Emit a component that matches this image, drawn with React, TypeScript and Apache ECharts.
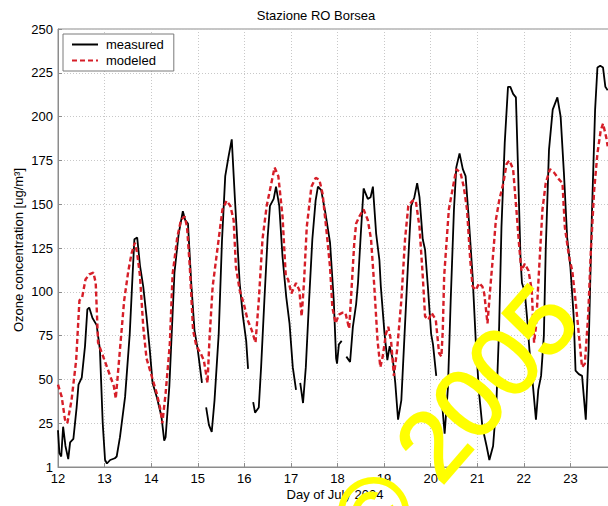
import React, { useEffect, useRef } from "react";
import * as echarts from "echarts";

const titleText = "Stazione RO Borsea";
const xAxisName = "Day of July 2004";
const yAxisName = "Ozone concentration [ug/m³]";
const watermarkText = "© 2005";
const seriesNames = ["measured", "modeled"];
const yTicks = [0, 25, 50, 75, 100, 125, 150, 175, 200, 225, 250];

// [day of July, ozone ug/m3]; null = missing data
const measured: [number, number | null][] = [
  [12.0, 21], [12.03, 8], [12.07, 6], [12.11, 23], [12.16, 12], [12.22, 4.5], [12.26, 14], [12.33, 16],
  [12.4, 34], [12.44, 47], [12.51, 51], [12.58, 69], [12.63, 90], [12.67, 91], [12.74, 85], [12.83, 81],
  [12.9, 67], [12.96, 25], [13.01, 4], [13.05, 2], [13.12, 4], [13.22, 5], [13.26, 6], [13.33, 17],
  [13.44, 40], [13.54, 76], [13.6, 109], [13.64, 130], [13.7, 131], [13.76, 115], [13.83, 103], [13.9, 86],
  [13.97, 67], [14.03, 48], [14.12, 40], [14.22, 29], [14.28, 15], [14.31, 17], [14.39, 46], [14.5, 111],
  [14.59, 133], [14.68, 146], [14.73, 141], [14.79, 139], [14.86, 105], [14.93, 78], [15.0, 67], [15.09, 48],
  [15.13, null], [15.18, 34], [15.24, 24], [15.3, 20], [15.36, 38], [15.45, 76], [15.52, 129], [15.59, 166],
  [15.66, 177], [15.73, 187], [15.8, 152], [15.9, 105], [15.97, 86], [16.04, 72], [16.08, 56], [16.13, null],
  [16.19, 37], [16.23, 31], [16.31, 34], [16.36, 57], [16.43, 95], [16.5, 131], [16.55, 149], [16.63, 153],
  [16.68, 160], [16.75, 149], [16.82, 120], [16.9, 97], [16.97, 82], [17.04, 57], [17.11, 44], [17.15, null],
  [17.2, 48], [17.26, 36.5], [17.32, 57], [17.39, 95], [17.46, 130], [17.53, 152], [17.58, 160], [17.65, 158],
  [17.74, 145], [17.84, 128], [17.92, 95], [17.97, 62], [17.99, 59], [18.03, 70], [18.09, 72], [18.14, null],
  [18.19, 63], [18.27, 60], [18.33, 80], [18.4, 93], [18.44, 105], [18.5, 133], [18.56, 159], [18.65, 153],
  [18.71, 154], [18.76, 160], [18.83, 133], [18.9, 118], [18.93, 103], [19.01, 76], [19.07, 61], [19.12, 69],
  [19.19, 61], [19.24, 48], [19.3, 27], [19.37, 38], [19.44, 76], [19.51, 114], [19.58, 149], [19.65, 154],
  [19.71, 162], [19.76, 154], [19.83, 130], [19.88, 124], [19.94, 103], [20.01, 76], [20.05, 70], [20.12, 52],
  [20.17, null], [20.22, 44], [20.3, 19], [20.37, 45], [20.43, 95], [20.5, 147], [20.55, 171], [20.62, 179],
  [20.69, 170], [20.75, 166], [20.82, 141], [20.9, 109], [20.97, 71], [21.04, 42], [21.11, 23], [21.2, 12],
  [21.26, 4], [21.34, 12], [21.41, 36], [21.47, 80], [21.52, 137], [21.59, 185], [21.66, 217], [21.71, 217],
  [21.77, 213], [21.83, 211], [21.88, 166], [21.93, 118], [21.96, 105], [22.02, 100], [22.07, 85], [22.12, 67],
  [22.19, 48], [22.26, 27], [22.31, 44], [22.37, 52], [22.43, 75], [22.47, 124], [22.54, 181], [22.62, 204],
  [22.72, 211], [22.79, 200], [22.86, 168], [22.93, 131], [23.0, 114], [23.07, 86], [23.11, 55], [23.18, 53],
  [23.25, 52], [23.33, 27], [23.39, 67], [23.46, 143], [23.53, 204], [23.58, 228], [23.64, 229], [23.7, 228],
  [23.75, 217], [23.8, 215],
];

const modeled: [number, number][] = [
  [12.0, 47], [12.08, 40], [12.15, 27], [12.2, 25], [12.29, 38], [12.39, 61], [12.46, 95], [12.52, 97],
  [12.59, 107], [12.67, 110], [12.76, 111], [12.81, 105], [12.86, 71], [12.97, 63], [13.12, 52], [13.2, 46],
  [13.24, 39], [13.33, 67], [13.42, 95], [13.51, 112], [13.58, 122], [13.65, 128], [13.7, 122], [13.76, 109],
  [13.83, 80], [13.9, 62], [14.01, 52], [14.12, 42], [14.19, 34], [14.24, 25], [14.31, 42], [14.4, 70],
  [14.46, 110], [14.56, 131], [14.64, 141], [14.72, 143], [14.77, 137], [14.83, 114], [14.9, 78], [14.97, 69],
  [15.06, 65], [15.13, 61], [15.21, 48], [15.25, 72], [15.32, 103], [15.43, 126], [15.53, 147], [15.62, 152],
  [15.7, 149], [15.77, 141], [15.82, 114], [15.9, 101], [15.99, 93], [16.07, 84], [16.16, 78], [16.24, 71],
  [16.31, 95], [16.39, 130], [16.48, 149], [16.58, 162], [16.65, 171], [16.73, 166], [16.82, 143], [16.89, 109],
  [16.94, 107], [17.01, 99], [17.11, 105], [17.18, 101], [17.23, 86], [17.28, 105], [17.34, 137], [17.44, 160],
  [17.53, 165], [17.61, 164], [17.68, 156], [17.77, 133], [17.84, 114], [17.89, 91], [17.96, 82], [18.03, 87],
  [18.1, 88], [18.17, 88], [18.25, 79], [18.3, 101], [18.36, 128], [18.4, 139], [18.47, 143], [18.56, 147],
  [18.65, 141], [18.72, 130], [18.79, 103], [18.86, 72], [18.92, 57], [18.97, 63], [19.04, 76], [19.09, 80],
  [19.15, 72], [19.21, 52], [19.28, 67], [19.37, 95], [19.45, 130], [19.52, 149], [19.61, 152], [19.68, 152],
  [19.76, 137], [19.83, 109], [19.88, 86], [19.95, 84], [20.02, 88], [20.11, 84], [20.18, 65], [20.23, 63],
  [20.26, 78], [20.29, 109], [20.39, 147], [20.48, 160], [20.55, 170], [20.64, 168], [20.71, 160], [20.78, 147],
  [20.85, 118], [20.9, 103], [20.97, 101], [21.04, 105], [21.11, 103], [21.15, 99], [21.22, 82], [21.27, 99],
  [21.33, 118], [21.4, 141], [21.47, 152], [21.56, 162], [21.63, 173], [21.69, 175], [21.77, 170], [21.84, 147],
  [21.9, 126], [21.95, 112], [22.02, 116], [22.1, 112], [22.17, 101], [22.22, 71], [22.26, 80], [22.33, 114],
  [22.4, 147], [22.47, 162], [22.56, 170], [22.65, 168], [22.76, 164], [22.83, 162], [22.88, 137], [22.97, 120],
  [23.04, 112], [23.11, 95], [23.18, 76], [23.25, 57], [23.31, 59], [23.38, 86], [23.44, 124], [23.51, 158],
  [23.58, 179], [23.65, 192], [23.7, 196], [23.77, 188], [23.8, 183],
];

const FONT = "'Liberation Sans', Arial, Helvetica, sans-serif";

export default function App() {
  const ref = useRef<HTMLDivElement>(null);
  useEffect(() => {
    if (!ref.current) return;
    const chart = echarts.init(ref.current, null, { renderer: "svg" });
    chart.setOption({
      animation: false,
      backgroundColor: "#ffffff",
      textStyle: { fontFamily: FONT },
      grid: {
        left: 58,
        top: 29,
        right: -9,
        bottom: 39,
        outerBoundsMode: "none",
        containLabel: false,
        show: true,
        borderColor: "#8c8c8c",
        borderWidth: 1,
        backgroundColor: "transparent",
      },
      legend: {
        data: seriesNames,
        orient: "vertical",
        left: 63,
        top: 34,
        itemWidth: 26,
        itemHeight: 10,
        itemGap: 3,
        padding: [4, 10, 4, 8],
        backgroundColor: "#ffffff",
        borderColor: "#7a7a7a",
        borderWidth: 1,
        itemStyle: { opacity: 0 },
        textStyle: { fontSize: 13, color: "#000", fontFamily: FONT, padding: [0, 0, 0, 3] },
      },
      xAxis: {
        type: "value",
        min: 12,
        max: 24,
        interval: 1,
        axisLine: { show: true, lineStyle: { color: "#8c8c8c", width: 1 } },
        axisTick: { show: true, inside: true, length: 4, lineStyle: { color: "#8c8c8c" } },
        axisLabel: {
          fontSize: 13,
          color: "#000",
          margin: 5,
          fontFamily: FONT,
          formatter: (v: number) => (v >= 24 ? "" : String(v)),
        },
        splitLine: { show: true, lineStyle: { color: "#c8c8c8", type: [1, 2], width: 1 } },
      },
      yAxis: {
        type: "value",
        min: yTicks[0],
        max: yTicks[yTicks.length - 1],
        interval: 25,
        axisLine: { show: true, lineStyle: { color: "#8c8c8c", width: 1 } },
        axisTick: { show: true, inside: true, length: 4, lineStyle: { color: "#8c8c8c" } },
        axisLabel: {
          fontSize: 13,
          color: "#000",
          margin: 5,
          fontFamily: FONT,
          formatter: (v: number) => (v === 0 ? "1" : String(v)),
        },
        splitLine: { show: true, lineStyle: { color: "#c8c8c8", type: [1, 2], width: 1 } },
      },
      series: [
        {
          name: seriesNames[0],
          type: "line",
          data: measured,
          symbol: "none",
          connectNulls: false,
          lineStyle: { color: "#000000", width: 1.8 },
          itemStyle: { color: "#000000" },
          z: 2,
        },
        {
          name: seriesNames[1],
          type: "line",
          data: modeled,
          symbol: "none",
          lineStyle: { color: "#d61e28", width: 2.4, type: [5, 3] },
          itemStyle: { color: "#d61e28" },
          z: 3,
        },
      ],
      graphic: [
        {
          type: "text",
          x: 316,
          y: 15,
          style: {
            text: titleText,
            fontSize: 13,
            fontFamily: FONT,
            fill: "#000",
            align: "center",
            verticalAlign: "middle",
            textAlign: "center",
            textVerticalAlign: "middle",
          },
        },
        {
          type: "text",
          x: 335,
          y: 494,
          style: {
            text: xAxisName,
            fontSize: 13,
            fontFamily: FONT,
            fill: "#000",
            align: "center",
            verticalAlign: "middle",
            textAlign: "center",
            textVerticalAlign: "middle",
          },
        },
        {
          type: "text",
          x: 18,
          y: 250,
          rotation: Math.PI / 2,
          style: {
            text: yAxisName,
            fontSize: 13,
            fontFamily: FONT,
            fill: "#000",
            align: "center",
            verticalAlign: "middle",
            textAlign: "center",
            textVerticalAlign: "middle",
          },
        },
        {
          type: "text",
          x: 454,
          y: 420,
          rotation: (49 * Math.PI) / 180,
          z: 100,
          style: {
            text: watermarkText,
            fontSize: 98,
            fontFamily: FONT,
            fill: "#ffff00",
            stroke: "#ffff00",
            lineWidth: 2,
            align: "center",
            verticalAlign: "middle",
            textAlign: "center",
            textVerticalAlign: "middle",
          },
        },
      ],
    });
    return () => chart.dispose();
  }, []);
  return (
    <div
      ref={ref}
      style={{ position: "fixed", left: 0, top: 0, width: 608, height: 506 }}
    />
  );
}
